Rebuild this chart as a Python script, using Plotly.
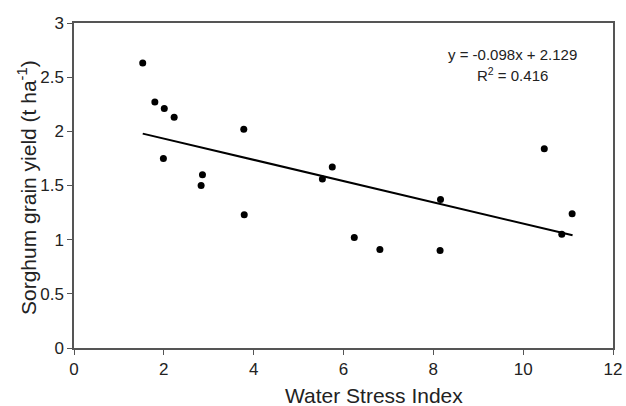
import plotly.graph_objects as go

# Data
wsi = [1.53, 1.80, 2.01, 2.23, 1.99, 3.78, 3.79, 2.86, 2.83, 5.53, 5.75,
       6.24, 6.81, 8.15, 8.16, 10.47, 10.86, 11.09]
yield_t = [2.63, 2.27, 2.21, 2.13, 1.75, 2.02, 1.23, 1.60, 1.50, 1.56, 1.67,
           1.02, 0.91, 0.90, 1.37, 1.84, 1.05, 1.24]

slope = -0.098
intercept = 2.129
r2 = 0.416
trend_x = [1.53, 11.1]
trend_y = [slope * x + intercept for x in trend_x]

x_ticks = [0, 2, 4, 6, 8, 10, 12]
y_ticks = [0, 0.5, 1, 1.5, 2, 2.5, 3]
y_tick_text = ["0", "0.5", "1", "1.5", "2", "2.5", "3"]

x_title = "Water Stress Index"
y_title = "Sorghum grain yield (t ha<sup>-1</sup>)"

fig = go.Figure()
fig.add_trace(go.Scatter(x=trend_x, y=trend_y, mode="lines",
                         line=dict(color="black", width=2), showlegend=False))
fig.add_trace(go.Scatter(x=wsi, y=yield_t, mode="markers",
                         marker=dict(color="black", size=7), showlegend=False))

axis_common = dict(
    showgrid=False, zeroline=False, showline=True, linecolor="#555555",
    linewidth=1.5, mirror=True, ticks="outside", tickcolor="#555555",
    ticklen=5, tickwidth=1.2, automargin=False,
    tickfont=dict(family="Liberation Sans, Arial, sans-serif", size=17, color="#222222"),
)

W, H = 626, 406
pl, pr, pt, pb = 74, 613, 23, 348

fig.update_layout(
    width=W, height=H,
    margin=dict(l=pl, r=W - pr, t=pt, b=H - pb, autoexpand=False),
    paper_bgcolor="white", plot_bgcolor="white",
    font=dict(family="Liberation Sans, Arial, sans-serif", color="#222222"),
    xaxis=dict(range=[0, 12], tickvals=x_ticks, **axis_common),
    yaxis=dict(range=[0, 3], tickvals=y_ticks, ticktext=y_tick_text, **axis_common),
)

def px_to_paper(px, py):
    return (px - pl) / (pr - pl), (pb - py) / (pb - pt)

# equation annotations
for txt, (px, py) in [(f"y = {slope}x + {intercept}", (512, 54)),
                      (f"R<sup>2</sup> = {r2}", (512, 74))]:
    ax, ay = px_to_paper(px, py)
    fig.add_annotation(x=ax, y=ay, xref="paper", yref="paper", showarrow=False,
                       xanchor="center", yanchor="middle", text=txt,
                       font=dict(size=15))

# axis titles
ax, ay = px_to_paper(374, 395)
fig.add_annotation(x=ax, y=ay, xref="paper", yref="paper", showarrow=False,
                   xanchor="center", yanchor="middle", text=x_title,
                   font=dict(size=21))
ax, ay = px_to_paper(27, 188)
fig.add_annotation(x=ax, y=ay, xref="paper", yref="paper", showarrow=False,
                   xanchor="center", yanchor="middle", text=y_title,
                   textangle=-90, font=dict(size=21))

fig.write_html("out.html")
